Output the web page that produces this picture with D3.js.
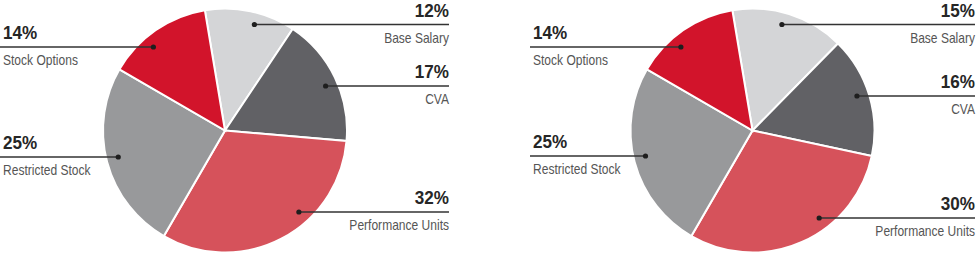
<!DOCTYPE html>
<html>
<head>
<meta charset="utf-8">
<script src="https://cdn.jsdelivr.net/npm/d3@7"></script>
<style>
  body { margin: 0; background: #fff; }
  .pct { font-family: "Liberation Sans", Arial, sans-serif; font-weight: bold; font-size: 18px; fill: #262626; }
  .lbl { font-family: "Liberation Sans", Arial, sans-serif; font-size: 14px; fill: #555; }
</style>
</head>
<body>
<script>
const categories = ["Base Salary", "CVA", "Performance Units", "Restricted Stock", "Stock Options"];
const valuesLeft = [12, 17, 32, 25, 14];
const valuesRight = [15, 16, 30, 25, 14];

const colors = ["#d4d5d7", "#616165", "#d6525b", "#98999b", "#d2142b"];

const width = 978, height = 256;
const radius = 122, dotRadius = 110;

// where each slice's label line sits; side 1 = right, -1 = left
const side = [1, 1, 1, -1, -1];
const charts = [
  {values: valuesLeft, cx: 225, cy: 130.5, left: 0, right: 449, lineY: [24.5, 86, 212, 157, 47]},
  {values: valuesRight, cx: 752.5, cy: 130.5, left: 530, right: 975, lineY: [24.5, 96, 218, 156, 47]}
];

const svg = d3.select("body").append("svg")
  .attr("width", width)
  .attr("height", height);

const pie = d3.pie().sort(null).startAngle(-0.166).endAngle(2 * Math.PI - 0.166);
const arc = d3.arc().innerRadius(0).outerRadius(radius);

charts.forEach((c) => {
  const g = svg.append("g").attr("transform", "translate(" + c.cx + "," + c.cy + ")");

  g.selectAll("path")
    .data(pie(c.values))
    .enter().append("path")
    .attr("d", arc)
    .attr("fill", (d, i) => colors[i])
    .attr("stroke", "#fff")
    .attr("stroke-width", 2);

  categories.forEach((name, i) => {
    const y = c.lineY[i];
    const dy = y - c.cy;
    const dotX = c.cx + side[i] * Math.sqrt(dotRadius * dotRadius - dy * dy);
    const endX = side[i] > 0 ? c.right : c.left;

    svg.append("line")
      .attr("x1", dotX).attr("x2", endX)
      .attr("y1", y).attr("y2", y)
      .attr("stroke", "#333")
      .attr("stroke-width", 1.5);

    svg.append("circle")
      .attr("cx", dotX).attr("cy", y)
      .attr("r", 2.6)
      .attr("fill", "#1e1e1e");

    const anchor = side[i] > 0 ? "end" : "start";
    const tx = side[i] > 0 ? c.right : c.left + 3;

    // condensed look: squeeze text horizontally
    svg.append("text")
      .attr("class", "pct")
      .attr("transform", "translate(" + tx + "," + (y - 8) + ") scale(0.95,1)")
      .attr("text-anchor", anchor)
      .text(c.values[i] + "%");

    svg.append("text")
      .attr("class", "lbl")
      .attr("transform", "translate(" + tx + "," + (y + 18) + ") scale(0.86,1)")
      .attr("text-anchor", anchor)
      .text(name);
  });
});
</script>
</body>
</html>
